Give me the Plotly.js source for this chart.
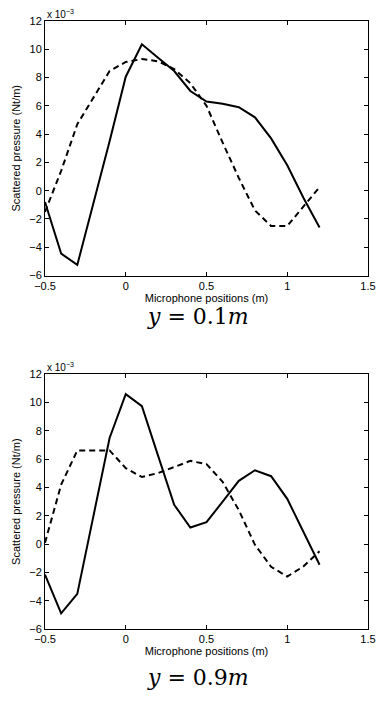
<!DOCTYPE html>
<html>
<head>
<meta charset="utf-8">
<script src="https://cdn.plot.ly/plotly-3.0.1.min.js"></script>
<style>
html,body{margin:0;padding:0;background:#fff;}
#chart{width:378px;height:704px;}
</style>
</head>
<body>
<div id="chart"></div>
<script>
// Microphone positions (m)
const positions = [-0.5,-0.4,-0.3,-0.2,-0.1,0,0.1,0.2,0.3,0.4,0.5,0.6,0.7,0.8,0.9,1.0,1.1,1.2];
// Scattered pressure, units of 1e-3 Nt/m
const top_solid  = [-0.8,-4.45,-5.25,-0.9,3.5,8.06,10.35,9.4,8.46,7.05,6.3,6.15,5.9,5.19,3.7,1.8,-0.5,-2.6];
const top_dashed = [-1.5,1.4,4.7,6.6,8.46,9.1,9.31,9.15,8.6,7.6,6.0,3.4,0.9,-1.4,-2.5,-2.5,-1.15,0.25];
const bot_solid  = [-2.15,-4.9,-3.52,2.0,7.5,10.6,9.75,6.25,2.78,1.17,1.55,3.0,4.47,5.22,4.8,3.2,0.9,-1.46];
const bot_dashed = [0.1,4.2,6.62,6.62,6.62,5.37,4.74,5.02,5.44,5.88,5.65,4.4,2.4,-0.05,-1.6,-2.29,-1.58,-0.5];
const captions = ["<i>y</i> = 0.1<i>m</i>", "<i>y</i> = 0.9<i>m</i>"];
const xTitle = "Microphone positions (m)";
const yTitle = "Scattered pressure (Nt/m)";
const scaleLabel = "x 10<sup>\u22123</sup>";

const solidLine = {color:'#000', width:2};
const dashLine = {color:'#000', width:2, dash:'6px,4px'};

const traces = [
  {x:positions, y:top_solid, xaxis:'x', yaxis:'y', mode:'lines', line:solidLine},
  {x:positions, y:top_dashed, xaxis:'x', yaxis:'y', mode:'lines', line:dashLine},
  {x:positions, y:bot_solid, xaxis:'x2', yaxis:'y2', mode:'lines', line:solidLine},
  {x:positions, y:bot_dashed, xaxis:'x2', yaxis:'y2', mode:'lines', line:dashLine}
];

const font = {family:'Liberation Sans, Arial, sans-serif', size:11, color:'#000'};
const smallFont = {family:'Liberation Sans, Arial, sans-serif', size:10, color:'#000'};
function xax(anchor){
  return {anchor:anchor, domain:[0,1], range:[-0.5,1.5], dtick:0.5, tick0:-0.5,
    ticks:'inside', ticklen:4, tickcolor:'#000', mirror:'ticks', showline:true, linecolor:'#000', linewidth:1,
    showgrid:false, zeroline:false, tickfont:font,
    title:{text:xTitle, font:font, standoff:1}};
}
function yax(anchor, dom){
  return {anchor:anchor, domain:dom, range:[-6,12], dtick:2, tick0:-6,
    ticks:'inside', ticklen:4, tickcolor:'#000', mirror:'ticks', showline:true, linecolor:'#000', linewidth:1,
    showgrid:false, zeroline:false, tickfont:font,
    title:{text:yTitle, font:font, standoff:6}};
}

const topDom = [0.5814, 1];
const botDom = [0, 0.4189];
const capFont = {family:'DejaVu Serif, Liberation Serif, serif', size:22, color:'#000'};
const layout = {
  width:378, height:704,
  margin:{l:45, r:10, t:21, b:75},
  paper_bgcolor:'#fff', plot_bgcolor:'#fff',
  showlegend:false,
  font:font,
  xaxis:xax('y'), yaxis:yax('x', topDom),
  xaxis2:xax('y2'), yaxis2:yax('x2', botDom),
  annotations:[
    {xref:'paper', yref:'paper', x:0, y:topDom[1], xanchor:'left', yanchor:'bottom', text:scaleLabel, showarrow:false, font:smallFont, yshift:-1},
    {xref:'paper', yref:'paper', x:0, y:botDom[1], xanchor:'left', yanchor:'bottom', text:scaleLabel, showarrow:false, font:smallFont, yshift:-1},
    {xref:'paper', yref:'paper', x:0.475, y:(629-316)/608, xanchor:'center', yanchor:'middle', text:captions[0], showarrow:false, font:capFont},
    {xref:'paper', yref:'paper', x:0.475, y:(629-677)/608, xanchor:'center', yanchor:'middle', text:captions[1], showarrow:false, font:capFont}
  ]
};

Plotly.newPlot('chart', traces, layout, {displayModeBar:false, staticPlot:true});
</script>
</body>
</html>
